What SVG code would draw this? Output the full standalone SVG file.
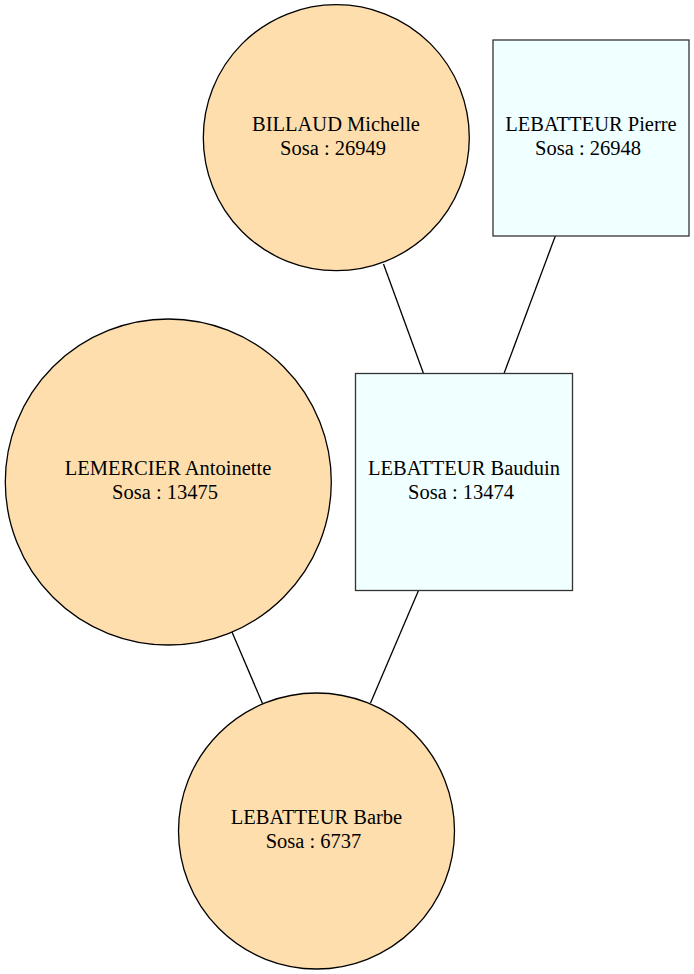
<svg xmlns="http://www.w3.org/2000/svg" width="694" height="974" viewBox="0 0 694 974">
<style>
.f{fill:#ffdead;stroke:#000;stroke-width:1.3}
.m{fill:#f0ffff;stroke:#333;stroke-width:1.3}
text{font-family:"Liberation Serif","Times New Roman",serif;font-size:20.5px;text-anchor:middle;fill:#000}
.e{stroke:#000;stroke-width:1.3;fill:none}
</style>
<rect width="694" height="974" fill="#fff"/>
<g id="edges">
<line class="e" x1="383.5" y1="264" x2="423.5" y2="373.5"/>
<line class="e" x1="555.5" y1="235.5" x2="504" y2="373.5"/>
<line class="e" x1="232" y1="632" x2="262.5" y2="703.5"/>
<line class="e" x1="418.5" y1="590.5" x2="370.5" y2="703"/>
</g>
<g id="billaud">
<circle class="f" cx="336.3" cy="137.7" r="133"/>
<text x="336" y="131">BILLAUD Michelle</text>
<text x="333" y="155">Sosa : 26949</text>
</g>
<g id="pierre">
<rect class="m" x="493" y="40" width="196" height="196"/>
<text x="591" y="131">LEBATTEUR Pierre</text>
<text x="588" y="155">Sosa : 26948</text>
</g>
<g id="lemercier">
<circle class="f" cx="168.3" cy="482" r="163"/>
<text x="168" y="475">LEMERCIER Antoinette</text>
<text x="165" y="499">Sosa : 13475</text>
</g>
<g id="bauduin">
<rect class="m" x="355.5" y="373.5" width="217" height="217"/>
<text x="464" y="475">LEBATTEUR Bauduin</text>
<text x="461" y="499">Sosa : 13474</text>
</g>
<g id="barbe">
<circle class="f" cx="316.5" cy="831" r="138"/>
<text x="316.5" y="824">LEBATTEUR Barbe</text>
<text x="313.5" y="848">Sosa : 6737</text>
</g>
</svg>
